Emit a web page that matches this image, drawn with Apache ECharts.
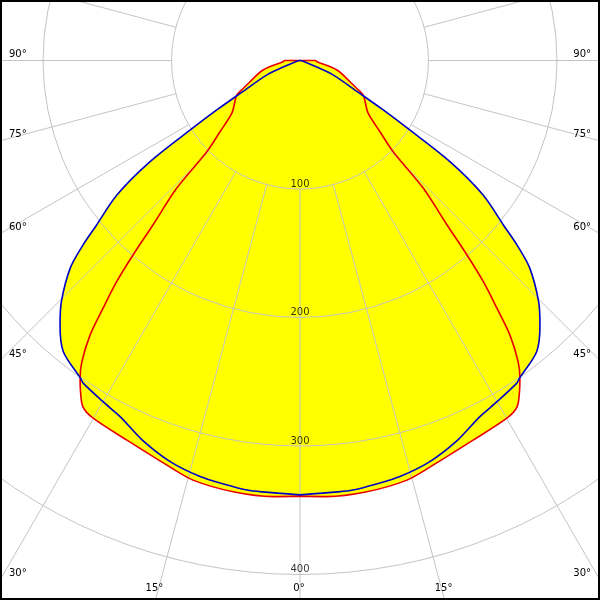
<!DOCTYPE html>
<html>
<head>
<meta charset="utf-8">
<script src="https://cdn.jsdelivr.net/npm/echarts@6/dist/echarts.min.js"></script>
<style>html,body{margin:0;padding:0;background:#fff}#c{width:600px;height:600px}</style>
</head>
<body>
<div id="c"></div>
<script>
// Read values: [angle from nadir (deg), intensity] — one half, mirrored to the other side
const bluePlane = [[0,338],[5,337],[7,336.8],[10,335],[13.5,333],[18,328],[22.5,320],[26.8,310.5],[30,306.6],[33.9,302.5],[34.7,300.4],[39.1,292],[42.2,278],[44.7,264],[47.9,241],[49.6,222],[51,204],[53.7,177],[56,141],[57.7,101],[59.3,75],[61.3,52],[66.5,28],[70,9],[80,2],[90,0],[180,0]];
const redPlane = [[0,339],[3.5,340],[8.8,339.6],[14.3,337],[18.2,331.5],[24.5,324.7],[30.1,321.5],[32.1,318],[33.7,308],[34.7,300.6],[35.9,289.5],[37.4,269],[38.5,246],[39.65,223.6],[40.65,199.5],[41.8,171.7],[44,138],[45.6,101.5],[48.3,83.4],[52.3,67],[57.6,60],[61.4,56],[63.9,49],[67,42.3],[75.6,29.7],[86,13.3],[90,12],[180,0]];
const radiusTicks = [100, 200, 300, 400];
const sideAngleLabels = [90, 75, 60, 45, 30];
const bottomAngleLabels = [15, 0];

const CX = 300, CY = 60.5, PX_PER_UNIT = 1.285, RMAX = 500;

function fullCurve(half) {
  const out = [];
  half.forEach(p => out.push([p[1], p[0]]));
  for (let i = half.length - 2; i >= 0; i--) out.push([half[i][1], 360 - half[i][0]]);
  return out;
}
const blueData = fullCurve(bluePlane);
const redData = fullCurve(redPlane);

const chart = echarts.init(document.getElementById('c'), null, {renderer: 'canvas'});
const FONT = '10px "DejaVu Sans"';
const gridColor = '#c4c4c4';

const graphics = [];
sideAngleLabels.forEach(a => {
  const rad = a * Math.PI / 180;
  const yEdge = a === 90 ? CY : CY + 300 / Math.tan(rad);
  graphics.push({type: 'text', x: 9, y: yEdge - 6.5, z: 10,
    style: {text: a + '°', fill: '#000', font: FONT, textAlign: 'left', textVerticalAlign: 'middle'}});
  graphics.push({type: 'text', x: 591, y: yEdge - 6.5, z: 10,
    style: {text: a + '°', fill: '#000', font: FONT, textAlign: 'right', textVerticalAlign: 'middle'}});
});
bottomAngleLabels.forEach(a => {
  const dx = (600 - CY) * Math.tan(a * Math.PI / 180);
  const xs = a === 0 ? [CX] : [CX - dx, CX + dx];
  xs.forEach(x => graphics.push({type: 'text', x: x - 1, y: 588, z: 10,
    style: {text: a + '°', fill: '#000', font: FONT, textAlign: 'center', textVerticalAlign: 'middle'}}));
});
graphics.push({type: 'rect', z: 20, shape: {x: 0, y: 0, width: 600, height: 600},
  style: {fill: 'none', stroke: '#000', lineWidth: 4}});

const SMOOTH = 0.3;
const fillSeries = (data) => ({
  type: 'line', coordinateSystem: 'polar', polarIndex: 1, data: data,
  symbol: 'none', silent: true, z: 1, smooth: SMOOTH,
  lineStyle: {width: 0, color: '#ffff00'},
  areaStyle: {color: '#ffff00', opacity: 1}
});
const lineSeries = (data, color, z) => ({
  type: 'line', coordinateSystem: 'polar', polarIndex: 1, data: data,
  symbol: 'none', silent: true, z: z, smooth: SMOOTH,
  lineStyle: {width: 1.6, color: color}
});

chart.setOption({
  animation: false,
  backgroundColor: '#ffffff',
  polar: [
    {center: [CX, CY], radius: [100 * PX_PER_UNIT, RMAX * PX_PER_UNIT]},
    {center: [CX, CY], radius: [0, RMAX * PX_PER_UNIT]}
  ],
  angleAxis: [
    {polarIndex: 0, type: 'value', min: 0, max: 360, interval: 15, startAngle: 270, clockwise: true, z: 2,
      axisLine: {show: false}, axisTick: {show: false}, axisLabel: {show: false},
      splitLine: {show: true, lineStyle: {color: gridColor, width: 1}}},
    {polarIndex: 1, type: 'value', min: 0, max: 360, startAngle: 270, clockwise: true, show: false}
  ],
  radiusAxis: [
    {polarIndex: 0, type: 'value', min: 100, max: RMAX, interval: 100, z: 2,
      axisLine: {show: false}, axisTick: {show: false}, axisLabel: {show: false},
      splitLine: {show: true, lineStyle: {color: gridColor, width: 1}}},
    {polarIndex: 1, type: 'value', min: 0, max: RMAX, show: false}
  ],
  series: [
    fillSeries(blueData),
    fillSeries(redData),
    lineSeries(redData, '#e80000', 4),
    lineSeries(blueData, '#0000c8', 5),
    {type: 'scatter', coordinateSystem: 'polar', polarIndex: 0, z: 6, silent: true,
      data: radiusTicks.map(r => [r, 0]), symbolSize: 0,
      label: {show: true, position: 'top', distance: 0, color: '#000', fontFamily: 'DejaVu Sans', fontSize: 10,
        formatter: p => String(p.value[0])}}
  ],
  graphic: graphics
});
</script>
</body>
</html>
